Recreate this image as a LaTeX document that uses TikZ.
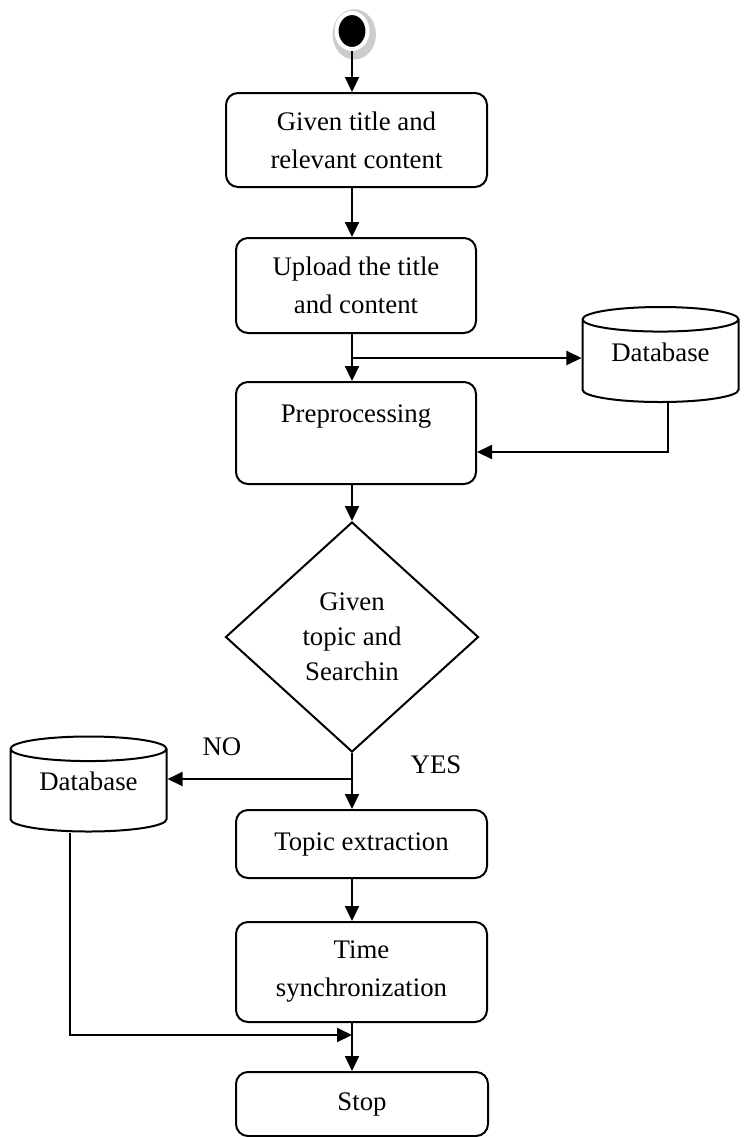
\documentclass[tikz,border=0pt]{standalone}
\usepackage{fontspec}
\setmainfont{Liberation Serif}
\usetikzlibrary{shapes.geometric, arrows.meta, shadows, calc}
\newcommand{\flowfont}{\fontsize{13.4}{19}\selectfont}
\tikzset{
    base/.style={draw=black, line width=1pt, align=center, font=\flowfont, inner sep=0pt},
    proc/.style={base, rounded corners=6pt, minimum width=120pt},
    db/.style={base, cylinder, shape border rotate=90, aspect=0.25, minimum width=78pt, minimum height=47.5pt,
        text depth=9pt, anchor=shape center},
    decision/.style={base, diamond, aspect=1.1, minimum width=126.5pt, minimum height=115pt, font=\fontsize{13.4}{17.5}\selectfont},
    startnode/.style={ellipse, fill=black, draw=white, line width=2pt, minimum width=15.5pt, minimum height=18pt, inner sep=0pt,
        drop shadow={shadow xshift=0.8pt, shadow yshift=-1.2pt, shadow scale=1.4, fill=black!20, opacity=1}},
    arrow/.style={-{Triangle[width=7pt,length=7.5pt]}, line width=1pt},
    tag/.style={font=\flowfont}
}

\begin{document}
\begin{tikzpicture}[x=0.5pt, y=-0.5pt]
    \useasboundingbox (0,0) rectangle (747,1137);

    % --- MAIN COLUMN ---
    \node[startnode] (start) at (352,31) {};
    \node[proc, minimum width=130.5pt, minimum height=47pt] (given) at (356.5,140) {Given title and\\relevant content};
    \node[proc, minimum height=47.5pt] (upload) at (356,285.5) {Upload the title\\and content};
    \node[proc, minimum height=51pt] (prep) at (356,433) {Preprocessing\\ \mbox{}};
    \node[decision] (search) at (352,637) {Given\\topic and\\Searchin};
    \node[proc, minimum width=125.5pt, minimum height=34pt] (topic) at (361.5,844) {Topic extraction};
    \node[proc, minimum width=125.5pt, minimum height=50pt] (sync) at (361.5,972) {Time\\synchronization};
    \node[proc, minimum width=126pt, minimum height=32pt] (stop) at (362,1104) {Stop};

    % --- DATABASES ---
    \node[db] (dbTop) at (660.5,354.5) {Database};
    \node[db] (dbLeft) at (88.5,784) {Database};

    \node[tag] (no) at (222,747) {NO};
    \node[tag] (yes) at (436,765) {YES};

    % branch points
    \coordinate (fork1) at (352,358);
    \coordinate (fork2) at (352,779);
    \coordinate (merge) at (352,1035);

    \draw[arrow] (start.south) -- (start.south |- given.north);
    \draw[arrow] (given.south -| start) -- (upload.north -| start);
    \draw[arrow] (upload.south -| start) -- (prep.north -| start);
    \draw[arrow] (fork1) -- (fork1 -| dbTop.180);
    \draw[arrow] (dbTop.270 -| 668,0) |- ($(prep.east)+(0,19)$);
    \draw[arrow] (prep.south -| start) -- (search.north);
    \draw[arrow] (search.south) -- (search.south |- topic.north);
    \draw[arrow] (fork2) -- (fork2 -| dbLeft.0);
    \draw[arrow] (topic.south -| start) -- (sync.north -| start);
    \draw[arrow] (sync.south -| start) -- (stop.north -| start);
    \draw[arrow] ($(dbLeft.270)+(-18.5,0)$) |- (merge);
\end{tikzpicture}
\end{document}
